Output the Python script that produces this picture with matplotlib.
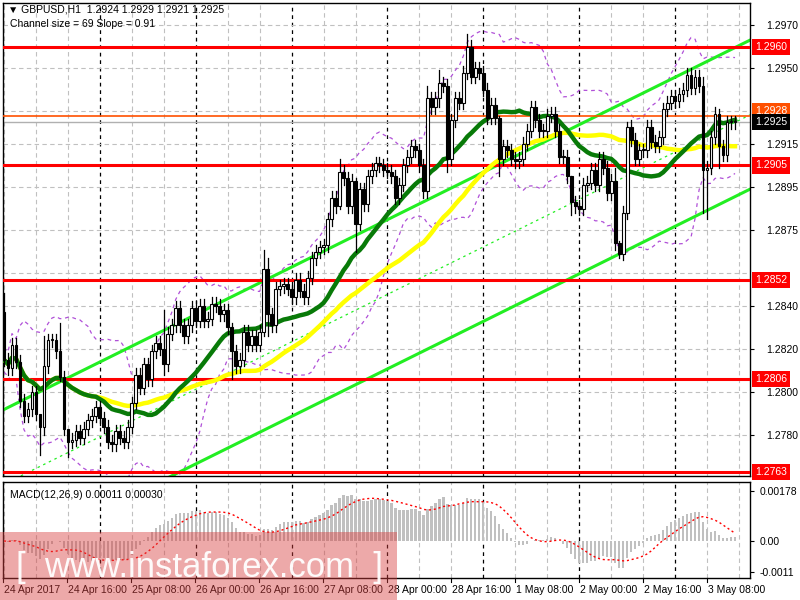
import numpy as np
import pandas as pd
import matplotlib
matplotlib.use("Agg")
import matplotlib.pyplot as plt
from matplotlib.patches import Rectangle

plt.rcParams['font.family'] = ['Liberation Sans', 'DejaVu Sans']

# ---------------- data ----------------
first_open = 1.2837
closes = [
 1.2815,1.2811,1.2822,1.2814,1.2796,1.2789,1.2792,1.2800,1.2790,1.2784,
 1.2812,1.2824,1.2824,1.2819,1.2807,1.2783,1.2777,1.2778,1.2782,1.2779,
 1.2783,1.2787,1.2789,1.2793,1.2788,1.2784,1.2777,1.2776,1.2782,1.2779,
 1.2777,1.2784,1.2795,1.2808,1.2802,1.2813,1.2806,1.2819,1.2823,1.2820,
 1.2813,1.2827,1.2831,1.2839,1.2831,1.2826,1.2831,1.2839,1.2833,1.2840,
 1.2833,1.2834,1.2841,1.2840,1.2836,1.2838,1.2830,1.2819,1.2812,1.2815,
 1.2828,1.2822,1.2826,1.2822,1.2828,1.2857,1.2836,1.2831,1.2848,1.2849,
 1.2850,1.2848,1.2844,1.2852,1.2847,1.2844,1.2853,1.2862,1.2865,1.2867,
 1.2868,1.2880,1.2890,1.2886,1.2902,1.2899,1.2886,1.2898,1.2878,1.2894,
 1.2887,1.2900,1.2903,1.2906,1.2905,1.2903,1.2902,1.2900,1.2890,1.2896,
 1.2905,1.2909,1.2914,1.2912,1.2905,1.2893,1.2936,1.2932,1.2936,1.2943,
 1.2942,1.2908,1.2926,1.2936,1.2934,1.2948,1.2960,1.2946,1.2950,1.2948,
 1.2940,1.2927,1.2933,1.2927,1.2908,1.2914,1.2912,1.2908,1.2907,1.2908,
 1.2915,1.2921,1.2932,1.2926,1.2921,1.2921,1.2928,1.2929,1.2921,1.2909,
 1.2909,1.2900,1.2888,1.2886,1.2885,1.2896,1.2897,1.2903,1.2896,1.2908,
 1.2904,1.2892,1.2898,1.2869,1.2864,1.2883,1.2923,1.2917,1.2908,1.2912,
 1.2912,1.2923,1.2916,1.2914,1.2918,1.2931,1.2934,1.2937,1.2935,1.2938,
 1.2940,1.2947,1.2941,1.2946,1.2942,1.2903,1.2904,1.2918,1.2929,1.2914,
 1.2910,1.2925,1.2925,1.2925]
# notable wicks: index -> (high, low)
wicks = {0: (1.2846, 1.2812), 9: (1.2786, 1.2771), 10: (1.2826, 1.2780),
         14: (1.2832, 1.2805), 16: (1.2781, 1.2770), 40: (1.2838, 1.2808),
         57: (1.2832, 1.2806), 65: (1.2866, 1.2826), 66: (1.2862, 1.2826),
         84: (1.2908, 1.2885), 88: (1.2899, 1.2865), 106: (1.2942, 1.2890),
         109: (1.2949, 1.2932), 111: (1.2945, 1.2902), 116: (1.2966, 1.2945),
         124: (1.2928, 1.2900), 142: (1.2900, 1.2882), 153: (1.2904, 1.2866),
         154: (1.2870, 1.2862), 156: (1.2925, 1.2880), 175: (1.2946, 1.2883),
         176: (1.2907, 1.2880), 179: (1.2931, 1.2904)}
levels = [1.2960, 1.2905, 1.2852, 1.2806, 1.2763]
level_labels = ["1.2960", "1.2905", "1.2852", "1.2806", "1.2763"]
resist_orange = 1.2928
y_ticks = [1.2970, 1.2950, 1.2915, 1.2895, 1.2875, 1.2840, 1.2820, 1.2800, 1.2780]
grid_prices = [1.2970, 1.2950, 1.2930, 1.2915, 1.2895, 1.2875, 1.2855, 1.2840,
               1.2820, 1.2800, 1.2780]
upper_channel = [(0, 1.2792), (186.75, 1.2963)]
lower_channel = [(41.75, 1.2761), (186.75, 1.2894)]
date_idx = [0, 16, 32, 48, 64, 80, 96, 112, 128, 144, 160, 176]
date_labels = ["24 Apr 2017", "24 Apr 16:00", "25 Apr 08:00", "26 Apr 00:00",
               "26 Apr 16:00", "27 Apr 08:00", "28 Apr 00:00", "28 Apr 16:00",
               "1 May 08:00", "2 May 00:00", "2 May 16:00", "3 May 08:00"]
day_idx = [24, 48, 72, 96, 120, 144, 168]

# ---------------- derived ----------------
c = np.array(closes)
n = len(c)
o = np.concatenate([[first_open], c[:-1]])
idx = np.arange(n)
hi = np.maximum(o, c) + 0.0003
lo = np.minimum(o, c) - 0.0003
for k, (h, l) in wicks.items():
    if k < n:
        hi[k], lo[k] = h, l
s = pd.Series(c)
ma_green = s.rolling(24, min_periods=1).mean()
ma_yellow = s.rolling(50, min_periods=1).mean()
bb_mid = s.rolling(20, min_periods=1).mean()
bb_sd = s.rolling(20, min_periods=2).std().bfill()
ema12 = s.ewm(span=12, adjust=False).mean()
ema26 = s.ewm(span=26, adjust=False).mean()
macd = ema12 - ema26
signal = macd.rolling(9, min_periods=1).mean()

# ---------------- figure ----------------
fig = plt.figure(figsize=(8, 6), dpi=100)
fig.patch.set_facecolor("white")
X0, X1 = -0.25, 186.75
ax = fig.add_axes([3/800, 1-476/600, 747/800, 473/600])
ax2 = fig.add_axes([3/800, 1-578/600, 747/800, 96/600])
for a in (ax, ax2):
    a.set_xlim(X0, X1)
    a.set_xticks([])
    for sp in a.spines.values():
        sp.set_color("black"); sp.set_linewidth(1)
    for k in range(0, 188, 8):
        if k in day_idx:
            a.axvline(k, color="black", ls=(0, (3, 3)), lw=0.9, zorder=0)
        else:
            a.axvline(k, color="#c0c0c0", ls=(0, (4, 3)), lw=0.8, zorder=0)

ymin, ymax = 1.27612, 1.29802
ax.set_ylim(ymin, ymax)
for p in grid_prices:
    ax.axhline(p, color="#c0c0c0", ls=(0, (4, 3)), lw=0.8, zorder=0)
ax.yaxis.tick_right()
ax.set_yticks(y_ticks)
ax.set_yticklabels([f"{v:.4f}" for v in y_ticks], fontsize=7.5)
ax.tick_params(axis="y", length=3, pad=9)

# bands
ax.plot(idx, bb_mid + 2*bb_sd, color="#b050d8", ls=(0, (3, 3)), lw=0.9, zorder=1)
ax.plot(idx, bb_mid - 2*bb_sd, color="#b050d8", ls=(0, (3, 3)), lw=0.9, zorder=1)
# channel
(ua, up), (ub, uq) = upper_channel
(la, lp), (lb, lq) = lower_channel
slope = (uq - up) / (ub - ua)
ax.plot([ua, ub], [up, uq], color="#22ee22", lw=2.2, zorder=2)
ax.plot([X0, lb], [lp + slope*(X0 - la), lq], color="#22ee22", lw=2.2, zorder=2)
mid0 = (up + lp + slope*(0 - la)) / 2
ax.plot([0, ub], [mid0, mid0 + slope*ub], color="#22ee22", ls=(0, (2, 3)), lw=0.9, zorder=2)
# levels
for lv in levels:
    ax.axhline(lv, color="#ff0000", lw=2.2, zorder=3)
ax.axhline(resist_orange, color="#ff5000", lw=1.2, zorder=3)
ax.axhline(c[-1], color="#b0b0b0", lw=1.0, zorder=1)
# MAs
ax.plot(idx, ma_yellow, color="#ffff00", lw=3.2, zorder=4)
ax.plot(idx, ma_green, color="#087a08", lw=3.2, zorder=4)
# candles
w = 0.7
for i in range(n):
    ax.plot([i, i], [lo[i], hi[i]], color="black", lw=0.9, zorder=5)
    bull = c[i] >= o[i]
    b0 = min(o[i], c[i]); hgt = max(abs(c[i]-o[i]), 0.00005)
    ax.add_patch(Rectangle((i - w/2, b0), w, hgt, facecolor="white" if bull else "black",
                           edgecolor="black", lw=0.8, zorder=6))

def yfig(p):
    return 1 - (476 - (p - ymin) / (ymax - ymin) * 473) / 600

for lv, lab in zip(levels, level_labels):
    fig.text(755/800, yfig(lv), lab, fontsize=7.5, color="white", va="center", ha="left",
             bbox=dict(boxstyle="square,pad=0.3", fc="#ff0000", ec="none"))
fig.text(755/800, yfig(1.2930), "1.2928", fontsize=7.5, color="white", va="center",
         bbox=dict(boxstyle="square,pad=0.3", fc="#ff5000", ec="none"))
fig.text(755/800, yfig(c[-1]), f"{c[-1]:.4f}", fontsize=7.5, color="white", va="center",
         bbox=dict(boxstyle="square,pad=0.3", fc="black", ec="none"))

fig.text(8/800, 1-10/600, "\u25bc GBPUSD,H1  1.2924 1.2929 1.2921 1.2925", fontsize=7.5,
         va="center", family=['DejaVu Sans'] if False else ['Liberation Sans', 'DejaVu Sans'])
fig.text(10/800, 1-24/600, "Channel size = 69 Slope = 0.91", fontsize=7.5, va="center")

# MACD
ax2.set_ylim(-0.00132, 0.00210)
ax2.bar(idx, macd, width=0.55, color="#c0c0c0", zorder=2)
ax2.plot(idx, signal, color="#ff0000", ls=(0, (1.5, 2)), lw=1.0, zorder=3)
ax2.yaxis.tick_right()
ax2.set_yticks([0.00178, 0.0, -0.0011])
ax2.set_yticklabels(["0.00178", "0.00", "-0.0011"], fontsize=7.5)
ax2.tick_params(axis="y", length=3, pad=4)
ax2.text(0.01, 0.83, "MACD(12,26,9) 0.00011 0.00030", transform=ax2.transAxes, fontsize=7.5)

for k, lab in zip(date_idx, date_labels):
    xf = (3 + 4*k) / 800
    fig.text(xf + 1/800, 1-590/600, lab, fontsize=7.5, va="center", ha="left")
    fig.lines.append(plt.Line2D([xf, xf], [1-578/600, 1-582/600], color="black",
                                lw=0.8, transform=fig.transFigure))

# watermark
fig.patches.append(Rectangle((0, 0), 397/800, 68/600, transform=fig.transFigure,
                             facecolor="#d84040", alpha=0.45, edgecolor="none", zorder=10))
fig.text(200/800, 32/600, "[  www.instaforex.com  ]", fontsize=25, color="white",
         ha="center", va="center", zorder=11, alpha=0.95)

fig.savefig("out.png", dpi=100)
